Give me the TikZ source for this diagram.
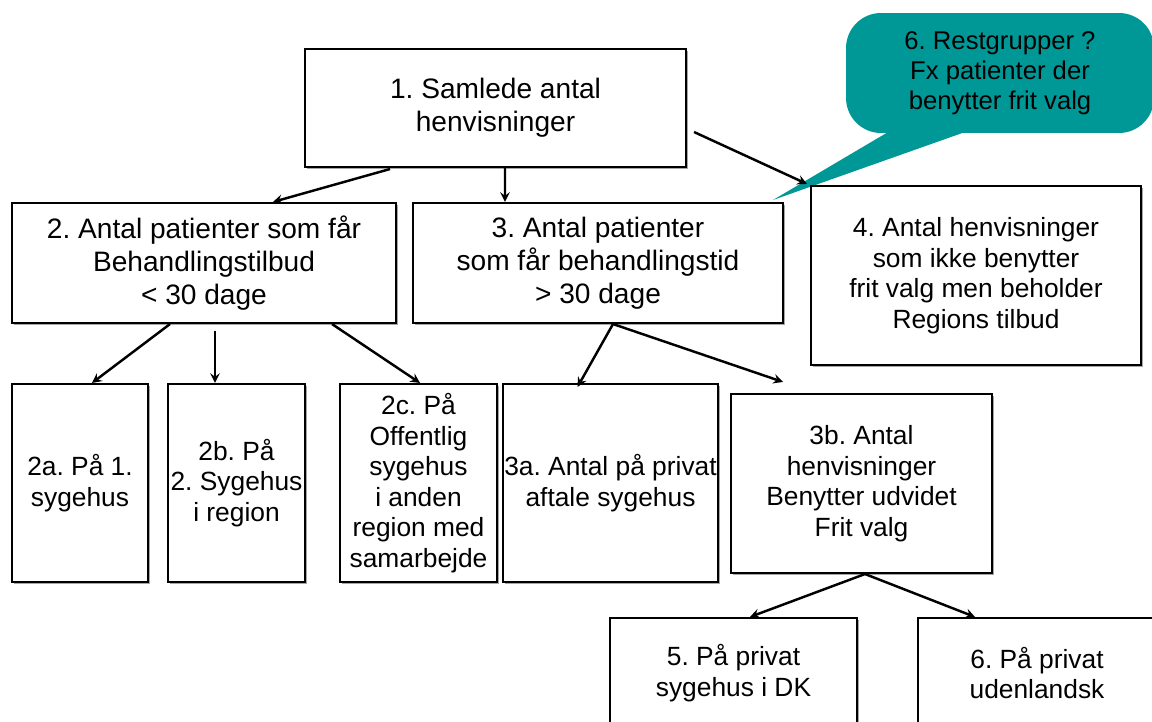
\documentclass[tikz,border=0pt]{standalone}
\usepackage{fontspec}
\setmainfont{Liberation Sans}
\frenchspacing
\usetikzlibrary{calc,shadows}
\definecolor{noteteal}{RGB}{0,152,150}

\begin{document}
\begin{tikzpicture}[>=stealth, x=0.02cm, y=-0.02cm,
  box/.style={draw, line width=1.2pt, fill=white, align=center, inner sep=0pt,
    font=\fontsize{15}{17.4}\selectfont,
    drop shadow={shadow xshift=1.2pt, shadow yshift=-1.2pt, fill=black!35, opacity=1}},
  bigbox/.style={box, font=\fontsize{16}{18.8}\selectfont},
  note/.style={fill=noteteal, rounded corners=0.7cm, align=center, inner sep=0pt,
    font=\fontsize{14.6}{17}\selectfont},
  link/.style={->, line width=1.4pt}]
  % picture frame in pixel units, y pointing down
  \clip (0,0) rectangle (1152,722);

  % the remark bubble and its tail
  \node[note, minimum width=6.16cm, minimum height=2.4cm] (rest) at (1000,73)
    {6. Restgrupper ?\\Fx patienter der\\benytter frit valg};
  \coordinate (tip) at (773,200);
  \fill[noteteal] ($(rest.south west)+(47,-4)$) -- (tip) -- ($(rest.south west)+(127,-4)$) -- cycle;

  % top levels
  \node[bigbox, minimum width=7.62cm, minimum height=2.36cm] (total) at (495.5,108)
    {1. Samlede antal\\henvisninger};
  \node[bigbox, minimum width=7.68cm, minimum height=2.4cm] (under30) at (204,263)
    {2. Antal patienter som får\\Behandlingstilbud\\< 30 dage};
  \node[bigbox, minimum width=7.4cm, minimum height=2.4cm] (over30) at (598,263)
    {3. Antal patienter\\som får behandlingstid\\> 30 dage};
  \node[box, minimum width=6.6cm, minimum height=3.58cm] (keep) at (976,275.5)
    {4. Antal henvisninger\\som ikke benytter\\frit valg men beholder\\Regions tilbud};

  % third row
  \node[box, minimum width=2.72cm, minimum height=3.96cm] (first) at (80,483)
    {2a. På 1.\\sygehus};
  \node[box, minimum width=2.74cm, minimum height=3.96cm] (second) at (236.5,483)
    {2b. På\\2. Sygehus\\i region};
  \node[box, minimum width=3.14cm, minimum height=3.96cm] (other) at (418.5,483)
    {2c. På\\Offentlig\\sygehus\\i anden\\region med\\samarbejde};
  \node[box, minimum width=4.3cm, minimum height=3.96cm] (agreed) at (610.5,483)
    {3a. Antal på privat\\aftale sygehus};
  \node[box, minimum width=5.22cm, minimum height=3.58cm] (extended) at (861.5,483.5)
    {3b. Antal\\henvisninger\\Benytter udvidet\\Frit valg};

  % bottom row
  \node[box, minimum width=4.94cm, minimum height=2.2cm] (privdk) at (733.5,673)
    {5. På privat\\sygehus i DK};
  \node[box, minimum width=4.76cm, minimum height=2.2cm] (abroad) at (1037,673)
    {6. På privat\\udenlandsk};

  % arrows
  \draw[link] ($(total.south)+(-105.5,1)$) -- ($(under30.north)+(69,0)$);
  \draw[link] ($(total.south)+(9.5,0)$) -- ($(over30.north)+(-93,0)$);
  \draw[link] ($(total.east)+(7,24)$) -- ($(keep.north west)+(-3,-1)$);
  \draw[link] ($(under30.south)+(-34,0)$) -- ($(first.north)+(12,0)$);
  \draw[link] ($(under30.south)+(11,7)$) -- ($(second.north)+(-21.5,0)$);
  \draw[link] ($(under30.south)+(128,0)$) -- ($(other.north)+(1.5,0)$);
  \draw[link] ($(over30.south)+(15,0)$) -- ($(agreed.north)+(-33,4)$);
  \draw[link] ($(over30.south)+(15,0)$) -- ($(extended.north)+(-78.5,-11)$);
  \draw[link] ($(extended.south)+(3.5,0)$) -- ($(privdk.north)+(16.5,0)$);
  \draw[link] ($(extended.south)+(3.5,0)$) -- ($(abroad.north)+(-62,0)$);
\end{tikzpicture}
\end{document}
